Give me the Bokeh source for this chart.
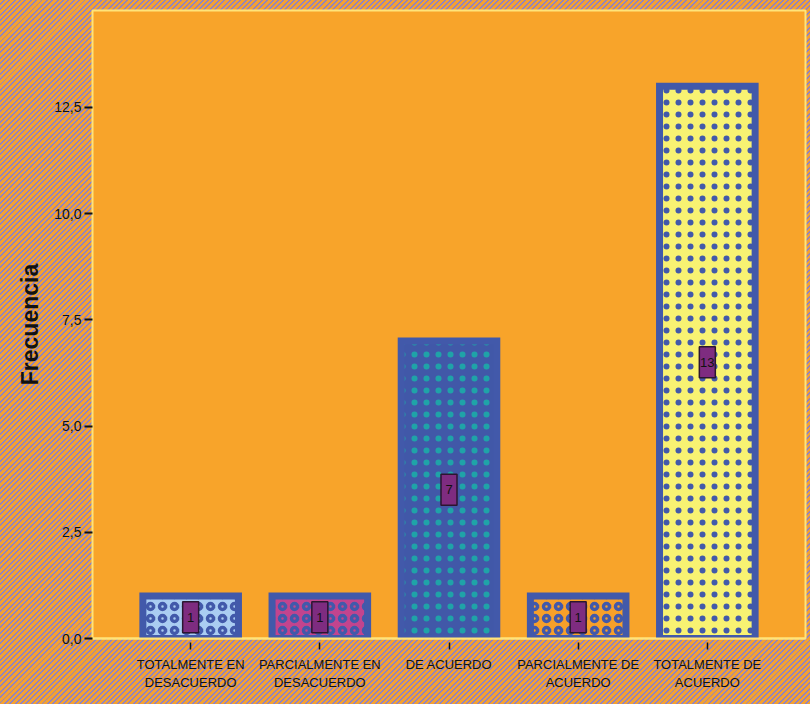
from bokeh.plotting import figure
from bokeh.models import ColumnDataSource, FactorRange, Range1d, FixedTicker
from bokeh.core.properties import value
from bokeh.embed import file_html
from bokeh.resources import INLINE

# ---- data ----
categories = ["TOTALMENTE EN\nDESACUERDO", "PARCIALMENTE EN\nDESACUERDO", "DE ACUERDO",
              "PARCIALMENTE DE\nACUERDO", "TOTALMENTE DE\nACUERDO"]
counts = [1, 1, 7, 1, 13]
y_ticks = [0, 2.5, 5, 7.5, 10, 12.5]
y_tick_labels = ["0,0", "2,5", "5,0", "7,5", "10,0", "12,5"]

# ---- styles ----
fills = ["#AACDF2", "#C2448E", "#4158A8", "#F7A02A", "#F8F272"]
hatch_cols = ["#4259AA", "#4259AA", "#1FA3A8", "#4259AA", "#4259AA"]
patterns = ["ring", "ring", "dot", "ring", "dot"]
border_col = "#4259AA"
font = "Liberation Sans"

src = ColumnDataSource(dict(
    cat=categories, count=counts, half=[c / 2 for c in counts],
    lab=[str(c) for c in counts], fill=fills, hatch=hatch_cols, pat=patterns))

p = figure(width=810, height=704, output_backend="svg", toolbar_location=None,
           x_range=FactorRange(*categories, range_padding=0.104),
           y_range=Range1d(0, 14.78),
           min_border_left=92, min_border_right=5, min_border_top=10, min_border_bottom=66,
           styles={"background": "repeating-linear-gradient(135deg, #F2A133 0px, #F2A133 2.4px, #8F82C4 2.4px, #8F82C4 3.8px)"})
p.border_fill_color = None
p.background_fill_color = "#F8A42A"
p.outline_line_color = "#FFE47A"
p.outline_line_width = 2
p.xgrid.visible = False
p.ygrid.visible = False

p.vbar(x="cat", top="count", bottom=0, width=0.74, source=src,
       fill_color="fill", line_color=border_col, line_width=7, line_join="miter",
       hatch_pattern="pat", hatch_color="hatch", hatch_scale=12, hatch_weight=3.5)

p.rect(x="cat", y="half", width=16, height=31, width_units="screen", height_units="screen",
       source=src, fill_color="#7E2C80", line_color="#2B1630", line_width=1.5)
p.text(x="cat", y="half", text="lab", source=src, text_align="center",
       text_baseline="middle", text_font=value(font), text_font_size="13px",
       text_color="#111111")

# y axis
ya = p.yaxis[0]
ya.ticker = FixedTicker(ticks=y_ticks)
ya.major_label_overrides = {float(t): l for t, l in zip(y_ticks, y_tick_labels)}
ya.axis_label = "Frecuencia"
ya.axis_label_text_font = font
ya.axis_label_text_font_style = "bold"
ya.axis_label_text_font_size = "23px"
ya.axis_label_text_color = "#111111"
ya.axis_label_standoff = 8
ya.major_label_text_font = font
ya.major_label_text_font_size = "14px"
ya.major_label_text_color = "#111111"
ya.major_label_standoff = 3
ya.axis_line_color = None
ya.major_tick_line_color = "#111111"
ya.major_tick_line_width = 2
ya.major_tick_out = 8
ya.major_tick_in = 0
ya.minor_tick_line_color = None

# x axis
xa = p.xaxis[0]
xa.axis_line_color = "#FFE47A"
xa.axis_line_width = 2
xa.major_tick_line_color = "#111111"
xa.major_tick_line_width = 1.5
xa.major_tick_in = -4
xa.major_tick_out = 11
xa.major_label_text_font = font
xa.major_label_text_font_size = "13px"
xa.major_label_text_color = "#111111"
xa.major_label_standoff = 7
xa.major_label_orientation = "horizontal"

open("out.html", "w").write(file_html(p, INLINE))
